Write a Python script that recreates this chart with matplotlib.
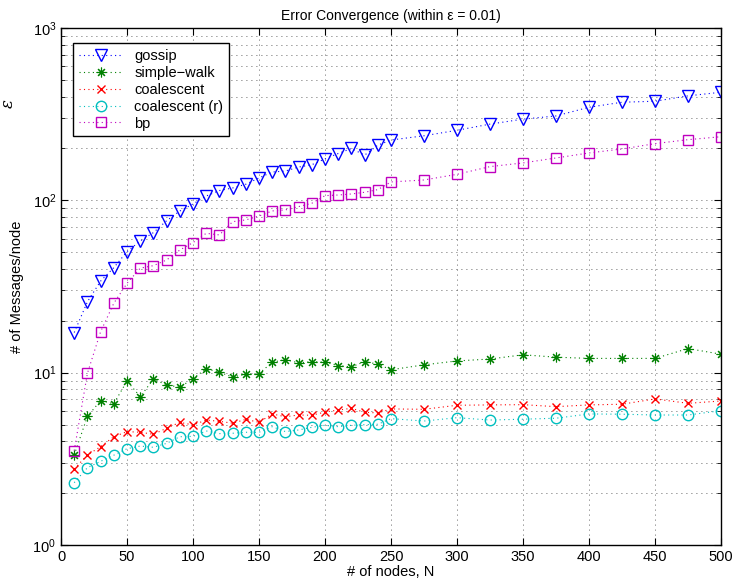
import numpy as np
import matplotlib.pyplot as plt
from matplotlib.ticker import LogLocator, NullFormatter, MultipleLocator

plt.rcParams['font.family'] = ['Liberation Sans', 'DejaVu Sans']
plt.rcParams['mathtext.fontset'] = 'custom'
plt.rcParams['mathtext.rm'] = 'Liberation Sans'

# nodos: de 10 a 250 cada 10, luego de 275 a 500 cada 25
nodos = [10, 20, 30, 40, 50, 60, 70, 80, 90, 100, 110, 120, 130, 140, 150,
         160, 170, 180, 190, 200, 210, 220, 230, 240, 250,
         275, 300, 325, 350, 375, 400, 425, 450, 475, 500]

gossip = [17.1, 25.8, 34.0, 40.7, 50.4, 58.1, 65.0, 76.2, 86.7, 95.3, 106, 114, 118, 124, 135,
          146, 148, 156, 161, 174, 187, 200, 183, 209, 224,
          237, 255, 277, 296, 309, 347, 371, 376, 404, 424]

simple_walk = [3.33, 5.58, 6.88, 6.61, 8.95, 7.26, 9.16, 8.49, 8.23, 9.23, 10.55, 10.05, 9.44, 9.79, 9.87,
               11.5, 11.9, 11.4, 11.6, 11.5, 11.0, 10.8, 11.6, 11.2, 10.4,
               11.1, 11.7, 12.0, 12.7, 12.3, 12.1, 12.1, 12.1, 13.8, 12.8]

coalescent = [2.76, 3.33, 3.72, 4.25, 4.55, 4.51, 4.39, 4.76, 5.15, 4.97, 5.31, 5.22, 5.09, 5.36, 5.15,
              5.76, 5.55, 5.68, 5.66, 5.91, 6.07, 6.21, 5.89, 5.84, 6.16,
              6.13, 6.47, 6.50, 6.52, 6.35, 6.50, 6.56, 7.04, 6.64, 6.85]

coalescent_r = [2.30, 2.81, 3.06, 3.32, 3.62, 3.75, 3.69, 3.89, 4.25, 4.27, 4.59, 4.43, 4.45, 4.51, 4.51,
                4.86, 4.55, 4.65, 4.82, 4.95, 4.86, 4.95, 4.99, 5.02, 5.41,
                5.24, 5.48, 5.31, 5.37, 5.44, 5.76, 5.74, 5.68, 5.68, 6.02]

bp = [3.53, 9.92, 17.3, 25.3, 33.0, 40.4, 41.8, 45.1, 51.5, 56.9, 64.4, 63.0, 75.2, 77.0, 81.1,
      86.8, 88.0, 92.0, 96.2, 106.5, 107.4, 108.9, 111.4, 115.4, 127.9,
      131.3, 141.6, 157, 164.9, 176.2, 188.4, 198.7, 213.4, 225, 234]

# (etiqueta, datos, marcador, tamaño, grosor, color)
series = [
    ('gossip', gossip, 'v', 8.5, 1.0, (0, 0, 1)),
    ('simple\u2212walk', simple_walk, (8, 2, 0), 7, 0.8, (0, 0.5, 0)),
    ('coalescent', coalescent, 'x', 5.5, 1.0, (1, 0, 0)),
    ('coalescent (r)', coalescent_r, 'o', 7.5, 1.0, (0, 0.75, 0.75)),
    ('bp', bp, 's', 7, 1.0, (0.75, 0, 0.75)),
]

fig = plt.figure(figsize=(7.46, 5.84), dpi=100)
ax = fig.add_axes([0.0818, 0.0668, 0.8847, 0.8852])

for nombre, valores, marca, tam, grosor, color in series:
    ax.plot(nodos, valores, linestyle=(0, (1, 3)), linewidth=0.8, color=color,
            marker=marca, markersize=tam,
            markerfacecolor='none', markeredgecolor=color,
            markeredgewidth=grosor, label=nombre)

ax.set_yscale('log')
ax.set_ylim(1, 1000)
ax.set_xlim(0, 500)
ax.xaxis.set_major_locator(MultipleLocator(50))
ax.yaxis.set_major_locator(LogLocator(base=10))
ax.yaxis.set_minor_locator(LogLocator(base=10, subs=np.arange(2, 10)))
ax.yaxis.set_minor_formatter(NullFormatter())

ax.grid(True, which='major', linestyle=(0, (1, 5)), color='#333333', linewidth=0.6)
ax.grid(True, which='minor', axis='y', linestyle=(0, (1, 5)), color='#333333', linewidth=0.6)
ax.set_axisbelow(True)
ax.tick_params(which='both', direction='in', top=True, right=True, labelsize=10.5)
ax.tick_params(which='major', length=5)
ax.tick_params(which='minor', length=3)
for s in ax.spines.values():
    s.set_linewidth(1.0)

ax.set_title('Error Convergence (within \u03b5 = 0.01)', fontsize=10, pad=6)
ax.set_xlabel('# of nodes, N', fontsize=10.5, labelpad=1)
ax.set_ylabel('# of Messages/node', fontsize=10.5, labelpad=6)

# etiqueta suelta rotada junto al borde izquierdo
fig.text(0.011, 0.822, '\u03b5', rotation=90, fontsize=12, ha='center', va='center',
         family=['DejaVu Serif'], style='italic')

leg = ax.legend(loc='upper left', bbox_to_anchor=(0.018, 0.971), fontsize=10.5,
                fancybox=False, framealpha=1, edgecolor='black',
                handlelength=3, borderaxespad=0, labelspacing=0.2)
leg.get_frame().set_linewidth(1.0)

fig.savefig('out.png', dpi=100)
